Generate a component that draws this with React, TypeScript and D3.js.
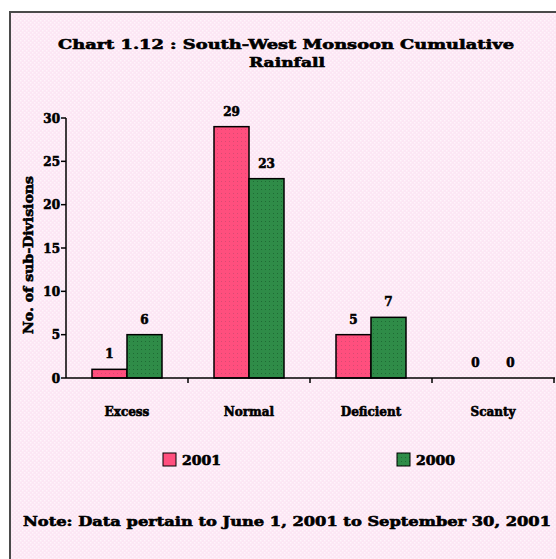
import React from "react";
import * as d3 from "d3";

const categories = ["Excess", "Normal", "Deficient", "Scanty"];
const seriesNames = ["2001", "2000"];
const values2001 = [1, 29, 5, 0];
const values2000 = [5, 23, 7, 0];
const labels2001 = ["1", "29", "5", "0"];
const labels2000 = ["6", "23", "7", "0"];
const yTicks = [0, 5, 10, 15, 20, 25, 30];
const colors = ["#ff4f7e", "#2f8c48"];

const W = 556;
const H = 559;
const FONT = "'DejaVu Serif', 'Liberation Serif', serif";

export default function App() {
  const x = d3.scaleBand<string>().domain(categories).range([66, 554]).paddingInner(0).paddingOuter(0);
  const xInner = d3.scaleBand<string>().domain(seriesNames).range([0, 70]);
  const y = d3.scaleLinear().domain([0, 30]).range([378, 118]);
  const series = [values2001, values2000];
  const labels = [labels2001, labels2000];
  const bw = x.bandwidth();
  const textStyle = { fontFamily: FONT, fontWeight: 700 as const, fill: "#000", stroke: "#000", strokeWidth: 0.6 };

  return (
    <svg width={W} height={H} style={{ position: "absolute", left: 0, top: 0 }}>
      <defs>
        <pattern id="bg" width="4" height="4" patternUnits="userSpaceOnUse">
          <rect width="4" height="4" fill="#fce6f4" />
          <rect x="0" y="0" width="1.5" height="1.5" fill="#fff4fb" />
          <rect x="2" y="2" width="1.5" height="1.5" fill="#fff4fb" />
        </pattern>
        <pattern id="dotsP" width="4" height="4" patternUnits="userSpaceOnUse">
          <rect width="4" height="4" fill={colors[0]} />
          <rect x="1" y="1" width="1" height="1" fill="#d84a72" />
        </pattern>
        <pattern id="dotsG" width="4" height="4" patternUnits="userSpaceOnUse">
          <rect width="4" height="4" fill={colors[1]} />
          <rect x="1" y="1" width="1" height="1" fill="#1f6a34" />
        </pattern>
      </defs>
      <rect x={0} y={0} width={W} height={H} fill="#fff" />
      <rect x={10} y={12} width={W} height={H} fill="url(#bg)" stroke="#4a4a4a" strokeWidth={2} />

      <text x={286} y={49} textAnchor="middle" fontSize={13} textLength={456} lengthAdjust="spacingAndGlyphs" style={textStyle}>
        Chart 1.12 :  South-West  Monsoon  Cumulative
      </text>
      <text x={287} y={67} textAnchor="middle" fontSize={13} textLength={76} lengthAdjust="spacingAndGlyphs" style={textStyle}>
        Rainfall
      </text>

      <text
        transform={`translate(33,255) rotate(-90)`}
        textAnchor="middle"
        fontSize={12}
        textLength={158}
        lengthAdjust="spacingAndGlyphs"
        style={textStyle}
      >
        No. of sub-Divisions
      </text>

      {series.map((vals, si) =>
        vals.map((v, ci) => {
          const bx = (x(categories[ci]) as number) + (bw - 70) / 2 + (xInner(seriesNames[si]) as number);
          const ww = xInner.bandwidth();
          return (
            <g key={`${si}-${ci}`}>
              {v > 0 && (
                <rect x={bx} y={y(v)} width={ww} height={y(0) - y(v)} fill={si === 0 ? "url(#dotsP)" : "url(#dotsG)"} stroke="#000" strokeWidth={1.5} />
              )}
              <text x={bx + ww / 2} y={y(v) - 11} textAnchor="middle" fontSize={12} style={textStyle}>
                {labels[si][ci]}
              </text>
            </g>
          );
        })
      )}

      <line x1={66} x2={66} y1={118} y2={378} stroke="#000" strokeWidth={1.5} />
      <line x1={66} x2={555} y1={378} y2={378} stroke="#000" strokeWidth={1.5} />
      {yTicks.map((t) => (
        <g key={t}>
          <line x1={61} x2={66} y1={y(t)} y2={y(t)} stroke="#000" strokeWidth={1.5} />
          <text x={60} y={y(t) + 4.5} textAnchor="end" fontSize={12} style={textStyle}>
            {t}
          </text>
        </g>
      ))}
      {categories.map((c) => (
        <g key={c}>
          <line x1={(x(c) as number) + bw} x2={(x(c) as number) + bw} y1={378} y2={383} stroke="#000" strokeWidth={1.5} />
          <text x={(x(c) as number) + bw / 2} y={416} textAnchor="middle" fontSize={12} style={textStyle}>
            {c}
          </text>
        </g>
      ))}

      {seriesNames.map((s, i) => {
        const lx = i === 0 ? 163 : 397;
        return (
          <g key={s}>
            <rect x={lx} y={453} width={13} height={13} fill={i === 0 ? colors[0] : "url(#dotsG)"} stroke="#000" strokeWidth={1} />
            <text x={lx + 19} y={465} fontSize={12} textLength={39} lengthAdjust="spacingAndGlyphs" style={textStyle}>
              {s}
            </text>
          </g>
        );
      })}

      <text x={23} y={526} fontSize={13} textLength={528} lengthAdjust="spacingAndGlyphs" style={textStyle}>
        Note: Data pertain to June 1, 2001 to September 30, 2001
      </text>
    </svg>
  );
}
